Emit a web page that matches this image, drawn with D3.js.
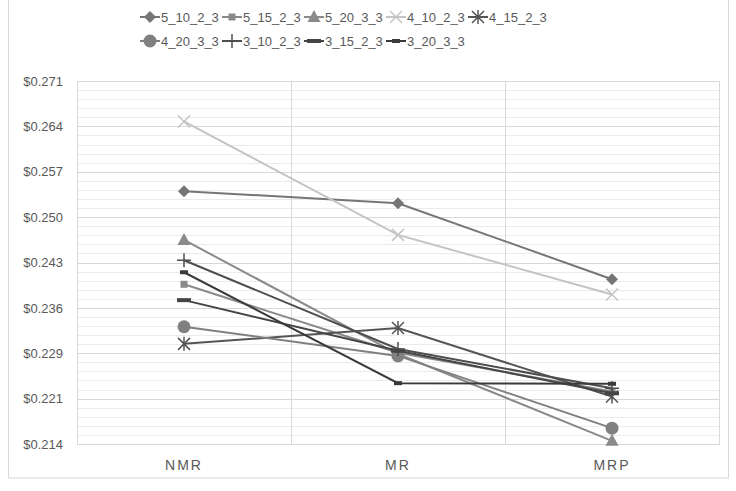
<!DOCTYPE html>
<html><head><meta charset="utf-8">
<script src="https://cdn.jsdelivr.net/npm/d3@7"></script>
<style>
body{margin:0;background:#fff;}
svg{display:block;font-family:"Liberation Sans",Arial,sans-serif;}
</style></head>
<body><svg id="c" width="736" height="491"></svg>
<script>
const categories = ["NMR", "MR", "MRP"];
const seriesNames = ["5_10_2_3","5_15_2_3","5_20_3_3","4_10_2_3","4_15_2_3","4_20_3_3","3_10_2_3","3_15_2_3","3_20_3_3"];
const s5_10_2_3 = [0.2541, 0.2522, 0.2402];
const s5_15_2_3 = [0.2394, 0.2286, 0.2225];
const s5_20_3_3 = [0.2464, 0.2284, 0.2147];
const s4_10_2_3 = [0.2651, 0.2472, 0.2378];
const s4_15_2_3 = [0.2300, 0.2325, 0.2217];
const s4_20_3_3 = [0.2327, 0.2281, 0.2167];
const s3_10_2_3 = [0.2432, 0.2292, 0.2230];
const s3_15_2_3 = [0.2369, 0.2289, 0.2222];
const s3_20_3_3 = [0.2413, 0.2238, 0.2237];
const yTickLabels = ["$0.214","$0.221","$0.229","$0.236","$0.243","$0.250","$0.257","$0.264","$0.271"];
const yMin = 0.2142, yStep = 0.00716;

const seriesValues = [s5_10_2_3,s5_15_2_3,s5_20_3_3,s4_10_2_3,s4_15_2_3,s4_20_3_3,s3_10_2_3,s3_15_2_3,s3_20_3_3];
const markers = ["diamond","square","triangle","x","asterisk","circle","plus","dash","dash2"];
const colors = ["#767676","#8a8a8a","#8a8a8a","#c4c4c4","#555555","#808080","#4e4e4e","#454545","#3a3a3a"];

const svg = d3.select("#c");
const m = {left:77, right:719, top:81, bottom:444};

svg.append("rect").attr("x",8.5).attr("y",-2).attr("width",720).attr("height",480)
  .attr("fill","#fff").attr("stroke","#d9d9d9");

const yMax = yMin + yStep*(yTickLabels.length-1);
const y = d3.scaleLinear().domain([yMin, yMax]).range([m.bottom, m.top]);
const x = d3.scaleBand().domain(categories).range([m.left, m.right]);

const minor = [];
for (let i=0;i<(yTickLabels.length-1)*5;i++){ if(i%5) minor.push(yMin + i*yStep/5); }
svg.append("g").selectAll("line").data(minor).join("line")
  .attr("x1",m.left).attr("x2",m.right).attr("y1",d=>Math.round(y(d))+0.5).attr("y2",d=>Math.round(y(d))+0.5)
  .attr("stroke","#ebebeb").attr("stroke-width",1);
const majors = yTickLabels.map((_,i)=>yMin+i*yStep);
svg.append("g").selectAll("line").data(majors).join("line")
  .attr("x1",m.left).attr("x2",m.right).attr("y1",d=>Math.round(y(d))+0.5).attr("y2",d=>Math.round(y(d))+0.5)
  .attr("stroke","#d9d9d9").attr("stroke-width",1);
svg.append("g").selectAll("line").data(categories.slice(1)).join("line")
  .attr("x1",d=>Math.round(x(d))+0.5).attr("x2",d=>Math.round(x(d))+0.5).attr("y1",m.top).attr("y2",m.bottom)
  .attr("stroke","#d9d9d9");
svg.append("rect").attr("x",m.left+0.5).attr("y",m.top+0.5).attr("width",m.right-m.left).attr("height",m.bottom-m.top)
  .attr("fill","none").attr("stroke","#d9d9d9");

const yAxis = d3.axisLeft(y).tickValues(majors).tickFormat((d,i)=>yTickLabels[i]).tickSize(0).tickPadding(14);
const ga = svg.append("g").attr("transform",`translate(${m.left},0)`).call(yAxis);
ga.select(".domain").remove();
ga.selectAll("text").attr("fill","#595959").style("font-size","13px").style("font-family","Liberation Sans");

const xAxis = d3.axisBottom(x).tickSize(0).tickPadding(16);
const gx = svg.append("g").attr("transform",`translate(0,${m.bottom})`).call(xAxis);
gx.select(".domain").remove();
gx.selectAll("text").attr("fill","#595959").style("font-size","14px").style("letter-spacing","2px");

function drawMarker(g, type, color, cx, cy){
  const s = g.append("g").attr("transform",`translate(${cx},${cy})`);
  switch(type){
    case "diamond": s.append("path").attr("d","M0,-6L6,0L0,6L-6,0Z").attr("fill",color); break;
    case "square": s.append("rect").attr("x",-3.5).attr("y",-3.5).attr("width",7).attr("height",7).attr("fill",color); break;
    case "triangle": s.append("path").attr("d","M0,-7L6.5,5L-6.5,5Z").attr("fill",color); break;
    case "circle": s.append("circle").attr("r",6.5).attr("fill",color); break;
    case "x": s.append("path").attr("d","M-6,-6L6,6M-6,6L6,-6").attr("stroke",color).attr("stroke-width",1.5); break;
    case "asterisk": s.append("path").attr("d","M-6,-6L6,6M-6,6L6,-6M0,-7L0,7").attr("stroke",color).attr("stroke-width",1.5); break;
    case "plus": s.append("path").attr("d","M-7,0L7,0M0,-7L0,7").attr("stroke",color).attr("stroke-width",1.5); break;
    case "dash": s.append("rect").attr("x",-7).attr("y",-2).attr("width",14).attr("height",4).attr("fill",color); break;
    case "dash2": s.append("rect").attr("x",-4).attr("y",-2).attr("width",8).attr("height",4).attr("fill",color); break;
  }
}

const line = d3.line().x((d,i)=>x(categories[i])+x.bandwidth()/2).y(d=>y(d));
const plot = svg.append("g");
seriesValues.forEach((vals,k)=>{
  plot.append("path").datum(vals).attr("d",line).attr("fill","none")
    .attr("stroke",colors[k]).attr("stroke-width",2);
});
seriesValues.forEach((vals,k)=>{
  vals.forEach((v,i)=>drawMarker(plot, markers[k], colors[k], x(categories[i])+x.bandwidth()/2, y(v)));
});

// legend with aligned columns
const leg = svg.append("g");
const rows = [[0,1,2,3,4],[5,6,7,8]];
const rowY = [17, 41];
const pitch = 82;
rows.forEach((r,ri)=>{
  r.forEach((k,ci)=>{
    const cx = 140 + ci*pitch;
    const g = leg.append("g");
    g.append("line").attr("x1",cx).attr("x2",cx+20).attr("y1",rowY[ri]).attr("y2",rowY[ri])
      .attr("stroke",colors[k]).attr("stroke-width",2);
    drawMarker(g, markers[k], colors[k], cx+10, rowY[ri]);
    g.append("text").attr("x",cx+21).attr("y",rowY[ri]).attr("dy","0.35em")
      .attr("fill","#595959").style("font-size","13px").text(seriesNames[k]);
  });
});
</script></body></html>
